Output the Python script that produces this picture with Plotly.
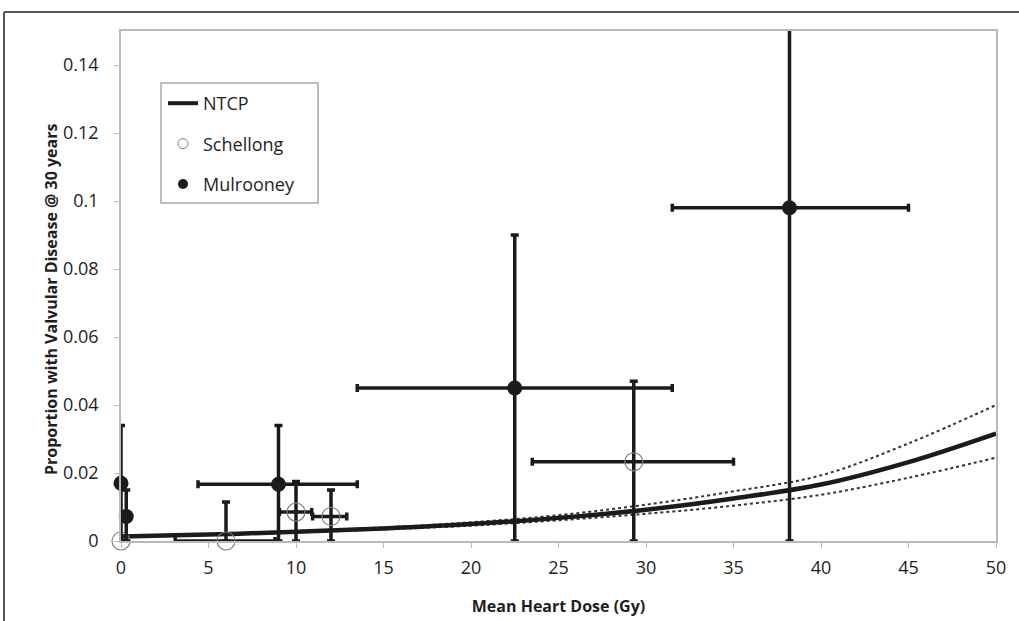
import plotly.graph_objects as go

# ---- data ----
ntcp_x = [0, 5, 10, 15, 20, 25, 30, 35, 40, 45, 50]
ntcp_y = [0.0013, 0.0019, 0.0027, 0.0037, 0.0050, 0.0068, 0.0092, 0.0125, 0.0166, 0.0232, 0.0316]
ntcp_upper = [0.0014, 0.0020, 0.0029, 0.0040, 0.0055, 0.0076, 0.0107, 0.0146, 0.0193, 0.0287, 0.0400]
ntcp_lower = [0.0012, 0.0018, 0.0025, 0.0034, 0.0045, 0.0061, 0.0080, 0.0104, 0.0136, 0.0186, 0.0245]

mul_x = [0, 0.3, 9, 22.5, 38.2]
mul_y = [0.017, 0.0072, 0.0167, 0.045, 0.098]
mul_y_hi = [0.034, 0.015, 0.034, 0.090, 0.20]
mul_x_lo = [None, None, 4.4, 13.5, 31.5]
mul_x_hi = [None, None, 13.5, 31.5, 45.0]

sch_x = [0, 6, 10, 12, 29.3]
sch_y = [0, 0, 0.0085, 0.0072, 0.0233]
sch_y_hi = [None, 0.0115, 0.0175, 0.015, 0.047]
sch_x_lo = [None, 3.1, 9.05, 10.95, 23.5]
sch_x_hi = [None, 8.8, 10.9, 12.9, 35.0]

x_ticks = [0, 5, 10, 15, 20, 25, 30, 35, 40, 45, 50]
y_ticks = [0, 0.02, 0.04, 0.06, 0.08, 0.1, 0.12, 0.14]
y_tick_text = ["0", "0.02", "0.04", "0.06", "0.08", "0.1", "0.12", "0.14"]

FONT = "Open Sans"
INK = "#1b1b1b"
TXT = "#1e1e1e"

# plot area in page pixels: left 121, right 996, top 31, bottom 541
PL, PR, PT, PB = 121, 996, 31, 541
W, H = 1019, 621


def px_x(p):
    return (p - PL) / (PR - PL)


def px_y(p):
    return (PB - p) / (PB - PT)


def plus(v, hi):
    return [None if h is None else h - y for y, h in zip(v, hi)]


def minus_to_zero(v, hi):
    return [None if h is None else y for y, h in zip(v, hi)]


def xplus(x, hi):
    return [None if h is None else h - xv for xv, h in zip(x, hi)]


def xminus(x, lo):
    return [None if l is None else xv - l for xv, l in zip(x, lo)]


fig = go.Figure()

for band in (ntcp_upper, ntcp_lower):
    fig.add_trace(go.Scatter(x=ntcp_x, y=band, mode="lines", showlegend=False,
                             line=dict(color="#333333", width=2, dash="dot", shape="spline"),
                             hoverinfo="skip"))
fig.add_trace(go.Scatter(x=ntcp_x, y=ntcp_y, mode="lines", showlegend=False,
                         line=dict(color=INK, width=4.5, shape="spline")))


def err_trace(xs, ys, yhi, xlo, xhi, marker, clip, name):
    return go.Scatter(
        x=xs, y=ys, mode="markers", name=name, showlegend=False, cliponaxis=clip,
        marker=marker,
        error_y=dict(type="data", symmetric=False, array=plus(ys, yhi),
                     arrayminus=minus_to_zero(ys, yhi), color=INK, thickness=3.5, width=4),
        error_x=dict(type="data", symmetric=False, array=xplus(xs, xhi),
                     arrayminus=xminus(xs, xlo), color=INK, thickness=3.5, width=4),
    )


sch_marker = dict(symbol="circle-open", size=18, color="#808080", line=dict(width=1.2, color="#808080"))
mul_marker = dict(symbol="circle", size=15, color=INK)

fig.add_trace(err_trace(sch_x, sch_y, sch_y_hi, sch_x_lo, sch_x_hi, sch_marker, False, "Schellong"))
fig.add_trace(err_trace(mul_x[:4], mul_y[:4], mul_y_hi[:4], mul_x_lo[:4], mul_x_hi[:4],
                        mul_marker, False, "Mulrooney"))
fig.add_trace(err_trace(mul_x[4:], mul_y[4:], mul_y_hi[4:], mul_x_lo[4:], mul_x_hi[4:],
                        mul_marker, True, "Mulrooney"))

# legend entries
fig.add_trace(go.Scatter(x=[None], y=[None], mode="lines", name="NTCP", legendgroup="a",
                         line=dict(color=INK, width=4)))
fig.add_trace(go.Scatter(x=[None], y=[None], mode="markers", name="Schellong", legendgroup="b",
                         marker=dict(symbol="circle-open", size=10, color="#808080",
                                     line=dict(width=1, color="#808080"))))
fig.add_trace(go.Scatter(x=[None], y=[None], mode="markers", name="Mulrooney", legendgroup="c",
                         marker=dict(symbol="circle", size=10, color=INK)))

axis_common = dict(showline=True, linecolor="#b8b8bd", linewidth=1.5, mirror=True,
                   showgrid=False, zeroline=False, ticks="outside", ticklen=5,
                   tickcolor="#b8b8bd", tickwidth=1.2, automargin=False,
                   tickfont=dict(family=FONT, size=18, color=TXT))

fig.update_layout(
    width=W, height=H,
    margin=dict(l=PL, r=W - PR, t=PT, b=H - PB),
    paper_bgcolor="white", plot_bgcolor="white",
    font=dict(family=FONT, color=TXT),
    xaxis=dict(range=[0, 50], tickvals=x_ticks, ticklabelstandoff=5,
               title=dict(text="<b>Mean Heart Dose (Gy)</b>", standoff=22,
                          font=dict(family=FONT, size=16, color=TXT)),
               **axis_common),
    yaxis=dict(range=[0, 0.15], tickvals=y_ticks, ticktext=y_tick_text, ticklabelstandoff=12,
               **axis_common),
    legend=dict(x=px_x(163), y=px_y(85), xanchor="left", yanchor="top",
                borderwidth=0, bgcolor="rgba(0,0,0,0)",
                font=dict(family=FONT, size=18, color=TXT),
                traceorder="grouped", tracegroupgap=14, itemwidth=30),
    showlegend=True,
    annotations=[
        dict(text="<b>Proportion with Valvular Disease @ 30 years</b>", textangle=-90,
             xref="paper", yref="paper", x=px_x(51), y=px_y(300),
             xanchor="center", yanchor="middle", showarrow=False,
             font=dict(family=FONT, size=16, color=TXT)),
    ],
    shapes=[
        # legend box
        dict(type="rect", xref="paper", yref="paper", x0=px_x(161), x1=px_x(318),
             y0=px_y(203), y1=px_y(83), line=dict(color="#a8a8a8", width=1.5),
             fillcolor="white", layer="below"),
        # outer frame
        dict(type="line", xref="paper", yref="paper", x0=px_x(4), x1=px_x(1030),
             y0=px_y(12), y1=px_y(12), line=dict(color="#555555", width=2)),
        dict(type="line", xref="paper", yref="paper", x0=px_x(4), x1=px_x(4),
             y0=px_y(12), y1=px_y(640), line=dict(color="#555555", width=2)),
    ],
)

fig.write_html("out.html", config={"displayModeBar": False},
               post_script="document.body.style.margin='0px';")
